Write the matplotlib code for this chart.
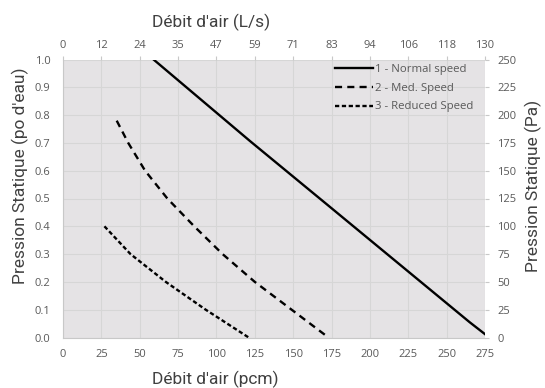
import matplotlib
matplotlib.use("Agg")
import matplotlib.pyplot as plt

# Data (x in pcm, y in po d'eau)
normal_x = [59, 122, 175, 265, 275]
normal_y = [1.0, 0.706, 0.465, 0.055, 0.012]

med_x = [35, 42.5, 53.5, 68, 85.5, 104, 125, 149, 173]
med_y = [0.78, 0.70, 0.60, 0.50, 0.40, 0.30, 0.20, 0.10, 0.0]

red_x = [27, 44, 67, 93, 121]
red_y = [0.40, 0.30, 0.20, 0.10, 0.0]

series_labels = ["1 - Normal speed", "2 - Med. Speed", "3 - Reduced Speed"]

pcm_ticks = [0, 25, 50, 75, 100, 125, 150, 175, 200, 225, 250, 275]
ls_labels = ["0", "12", "24", "35", "47", "59", "71", "83", "94", "106", "118", "130"]
po_ticks = [0.0, 0.1, 0.2, 0.3, 0.4, 0.5, 0.6, 0.7, 0.8, 0.9, 1.0]
pa_ticks = [0, 25, 50, 75, 100, 125, 150, 175, 200, 225, 250]

W, H = 545, 388
L, R, T, B = 63, 485, 59.5, 337.5
fig = plt.figure(figsize=(W / 100, H / 100), dpi=100)
fig.patch.set_facecolor("white")
ax = fig.add_axes([L / W, 1 - B / H, (R - L) / W, (B - T) / H])
ax.set_facecolor("#e5e3e5")

tick_color = "#595959"
grid_color = "#d6d6d6"
tick_font = "Open Sans"
title_font = "Roboto"

ax.plot(normal_x, normal_y, color="black", lw=1.7, ls="-", label=series_labels[0])
ax.plot(med_x, med_y, color="black", lw=1.7, ls=(0, (3, 2.2)), label=series_labels[1])
ax.plot(red_x, red_y, color="black", lw=1.7, ls=(0, (1.8, 1.1)), label=series_labels[2])

ax.set_xlim(0, 275)
ax.set_ylim(0, 1.0)
ax.set_xticks(pcm_ticks)
ax.set_yticks(po_ticks)
ax.set_xticklabels([str(t) for t in pcm_ticks])
ax.set_yticklabels([f"{t:.1f}" for t in po_ticks])
ax.grid(True, color=grid_color, lw=0.8)
ax.set_axisbelow(True)
for s in ["top", "right"]:
    ax.spines[s].set_visible(False)
for s in ["left", "bottom"]:
    ax.spines[s].set_color("#c8c8c8")
    ax.spines[s].set_linewidth(0.8)
ax.tick_params(axis="both", length=0, colors=tick_color, labelsize=8)
ax.tick_params(axis="x", pad=8)
ax.tick_params(axis="y", pad=9)
for lab in ax.get_xticklabels() + ax.get_yticklabels():
    lab.set_fontfamily(tick_font)

# top axis (L/s)
axt = ax.twiny()
axt.set_xlim(ax.get_xlim())
axt.set_xticks(pcm_ticks)
axt.set_xticklabels(ls_labels)
axt.tick_params(axis="x", length=3, color="#c8c8c8", colors=tick_color, labelsize=8, pad=3)
for lab in axt.get_xticklabels():
    lab.set_fontfamily(tick_font)

# right axis (Pa)
axr = ax.twinx()
axr.set_ylim(0, 250)
axr.set_yticks(pa_ticks)
axr.set_yticklabels([str(t) for t in pa_ticks])
axr.tick_params(axis="y", length=3, color="#c8c8c8", colors=tick_color, labelsize=8, pad=6)
for lab in axr.get_yticklabels():
    lab.set_fontfamily(tick_font)
for a in (axt, axr):
    for s in a.spines.values():
        s.set_visible(False)

leg = ax.legend(loc="upper left", bbox_to_anchor=((335 - L) / (R - L), (B - 64) / (B - T)),
                frameon=False, handlelength=3.3, handletextpad=0.25, labelspacing=0.68,
                borderaxespad=0, borderpad=0,
                prop={"family": tick_font, "size": 8.2})
for t in leg.get_texts():
    t.set_color(tick_color)

title_kw = dict(family=title_font, fontsize=12.5, color="#404040")
fig.text(211 / W, 1 - 22 / H, "Débit d'air (L/s)", ha="center", va="center", **title_kw)
fig.text(215 / W, 1 - 379 / H, "Débit d'air (pcm)", ha="center", va="center", **title_kw)
fig.text(20 / W, 1 - 176 / H, "Pression Statique (po d'eau)", ha="center", va="center",
         rotation=90, **title_kw)
fig.text(533 / W, 1 - 186 / H, "Pression Statique (Pa)", ha="center", va="center",
         rotation=90, **title_kw)

fig.savefig("out.png", dpi=100, facecolor="white")
